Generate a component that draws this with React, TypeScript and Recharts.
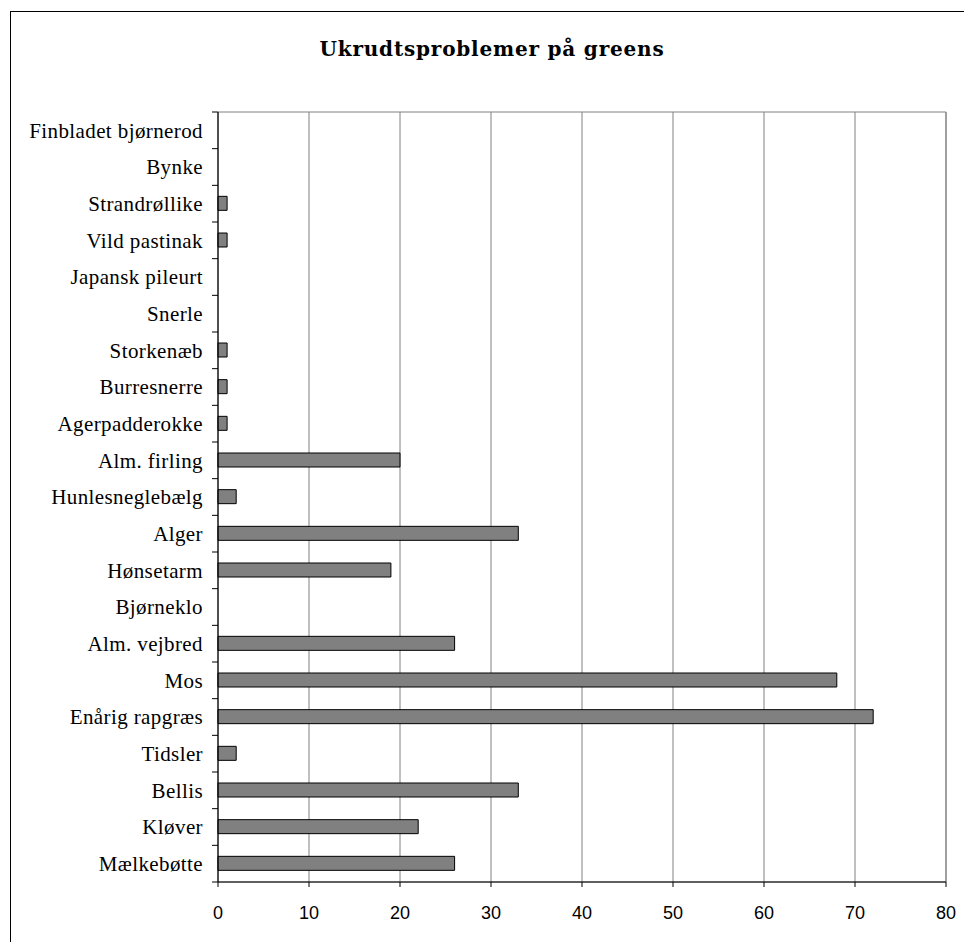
import { BarChart, Bar, XAxis, YAxis, CartesianGrid, ReferenceArea } from "recharts";

const weeds = [
  "Finbladet bjørnerod",
  "Bynke",
  "Strandrøllike",
  "Vild pastinak",
  "Japansk pileurt",
  "Snerle",
  "Storkenæb",
  "Burresnerre",
  "Agerpadderokke",
  "Alm. firling",
  "Hunlesneglebælg",
  "Alger",
  "Hønsetarm",
  "Bjørneklo",
  "Alm. vejbred",
  "Mos",
  "Enårig rapgræs",
  "Tidsler",
  "Bellis",
  "Kløver",
  "Mælkebøtte",
];

const counts = [0, 0, 1, 1, 0, 0, 1, 1, 1, 20, 2, 33, 19, 0, 26, 68, 72, 2, 33, 22, 26];

const xTicks = [0, 10, 20, 30, 40, 50, 60, 70, 80];

const data = weeds.map((name, i) => ({ name, value: counts[i] }));

const W = 964;
const H = 942;
const X_AXIS_H = 30;
const M = { top: 112, right: 18, bottom: 60 - X_AXIS_H, left: 0 };
const plotH = H - M.top - M.bottom - X_AXIS_H;
const band = plotH / weeds.length;

// category label plus a tick mark on the band boundary below it
const WeedTick = (props: any) => {
  const { x, y, payload, index } = props;
  const ax = x + 8;
  return (
    <g>
      <text
        x={x - 7}
        y={y}
        dy="0.35em"
        textAnchor="end"
        fontFamily="'Liberation Serif', 'Times New Roman', serif"
        fontSize={21}
        letterSpacing={0.4}
        fill="#000"
      >
        {payload.value}
      </text>
      {index === 0 && (
        <line x1={ax - 6} x2={ax} y1={y - band / 2} y2={y - band / 2} stroke="#000" />
      )}
      <line x1={ax - 6} x2={ax} y1={y + band / 2} y2={y + band / 2} stroke="#000" />
    </g>
  );
};

export default function App() {
  return (
    <div
      style={{
        position: "absolute",
        left: 0,
        top: 0,
        width: W,
        height: H,
        background: "#fff",
        overflow: "hidden",
      }}
    >
      <div
        style={{
          position: "absolute",
          left: 10,
          top: 11,
          width: W,
          height: H,
          borderLeft: "1px solid #000",
          borderTop: "1px solid #000",
        }}
      />
      <svg
        width={W}
        height={100}
        style={{ position: "absolute", left: 0, top: 0 }}
      >
        <text
          x={492}
          y={56}
          textAnchor="middle"
          fontFamily="'DejaVu Serif', serif"
          fontWeight="bold"
          fontSize={20}
          letterSpacing={0.8}
          fill="#000"
        >
          Ukrudtsproblemer på greens
        </text>
      </svg>
      <div style={{ position: "absolute", left: 0, top: 0 }}>
        <BarChart width={W} height={H} data={data} layout="vertical" margin={M}>
          <CartesianGrid horizontal={false} stroke="#808080" />
          <ReferenceArea x1={0} x2={80} fill="none" stroke="#808080" strokeOpacity={1} />
          <XAxis
            type="number"
            domain={[0, 80]}
            ticks={xTicks}
            interval={0}
            height={X_AXIS_H}
            axisLine={{ stroke: "#000" }}
            tickLine={{ stroke: "#000" }}
            tickSize={5}
            tickMargin={19}
            tick={{
              fill: "#000",
              fontSize: 18,
              fontFamily: "'Liberation Sans', Arial, sans-serif",
            }}
          />
          <YAxis
            type="category"
            dataKey="name"
            width={218}
            interval={0}
            axisLine={{ stroke: "#000" }}
            tickLine={false}
            tick={<WeedTick />}
          />
          <Bar
            dataKey="value"
            barSize={14}
            fill="#808080"
            stroke="#000"
            strokeWidth={1}
            isAnimationActive={false}
          />
        </BarChart>
      </div>
    </div>
  );
}
